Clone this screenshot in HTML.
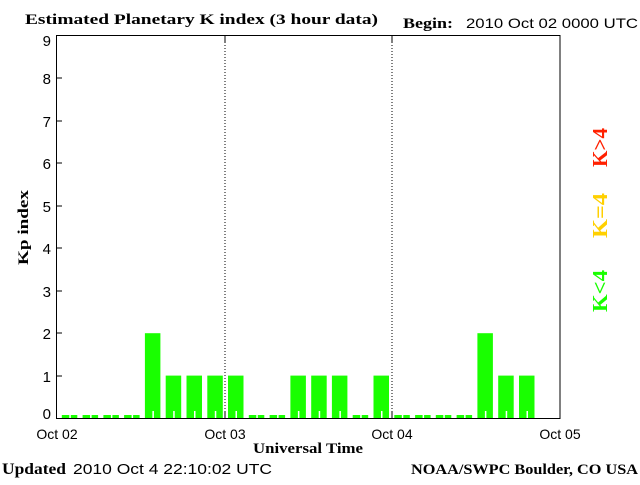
<!DOCTYPE html><html><head><style>body{margin:0;background:#fff}</style></head><body>
<svg width="640" height="480" xmlns="http://www.w3.org/2000/svg" font-family="Liberation Sans, sans-serif">
<rect width="640" height="480" fill="#fff"/>
<text x="25" y="24" font-family="Liberation Serif, serif" font-weight="bold" font-size="15" textLength="353" lengthAdjust="spacingAndGlyphs">Estimated Planetary K index (3 hour data)</text>
<text x="403" y="28" font-family="Liberation Serif, serif" font-weight="bold" font-size="15" textLength="50" lengthAdjust="spacingAndGlyphs">Begin:</text>
<text x="466" y="28" font-size="14" textLength="172" lengthAdjust="spacingAndGlyphs">2010 Oct 02 0000 UTC</text>
<g id="bars" fill="#19ff00"></g>
<line x1="225" y1="36" x2="225" y2="418" stroke="#000" stroke-dasharray="1,2"/>
<line x1="392" y1="36" x2="392" y2="418" stroke="#000" stroke-dasharray="1,2"/>
<rect x="56.5" y="35.5" width="503.5" height="383" fill="none" stroke="#000"/>
<g stroke="#000">
<line x1="57" y1="78" x2="62" y2="78"/><line x1="57" y1="121" x2="62" y2="121"/><line x1="57" y1="163" x2="62" y2="163"/><line x1="57" y1="206" x2="62" y2="206"/><line x1="57" y1="248" x2="62" y2="248"/><line x1="57" y1="291" x2="62" y2="291"/><line x1="57" y1="333" x2="62" y2="333"/><line x1="57" y1="376" x2="62" y2="376"/>
<line x1="225" y1="36" x2="225" y2="42"/><line x1="392" y1="36" x2="392" y2="42"/><line x1="225" y1="412" x2="225" y2="418"/><line x1="392" y1="412" x2="392" y2="418"/>
</g>
<g font-size="15" text-anchor="end">
<text x="51" y="46">9</text><text x="51" y="84">8</text><text x="51" y="127">7</text><text x="51" y="169">6</text><text x="51" y="212">5</text><text x="51" y="254">4</text><text x="51" y="297">3</text><text x="51" y="339">2</text><text x="51" y="382">1</text><text x="51" y="419">0</text>
</g>
<g font-size="14" text-anchor="middle">
<text x="57" y="439">Oct 02</text><text x="225" y="439">Oct 03</text><text x="392" y="439">Oct 04</text><text x="560" y="439">Oct 05</text>
</g>
<text x="253" y="453" font-family="Liberation Serif, serif" font-weight="bold" font-size="15" textLength="110" lengthAdjust="spacingAndGlyphs">Universal Time</text>
<text transform="translate(28,265) rotate(-90)" font-family="Liberation Serif, serif" font-weight="bold" font-size="15" textLength="75" lengthAdjust="spacingAndGlyphs">Kp index</text>
<text x="2" y="474" font-family="Liberation Serif, serif" font-weight="bold" font-size="16" textLength="64" lengthAdjust="spacingAndGlyphs">Updated</text>
<text x="73" y="474" font-size="15" textLength="199" lengthAdjust="spacingAndGlyphs">2010 Oct  4 22:10:02 UTC</text>
<text x="411" y="474" font-family="Liberation Serif, serif" font-weight="bold" font-size="15" textLength="227" lengthAdjust="spacingAndGlyphs">NOAA/SWPC Boulder, CO USA</text>
<g font-family="Liberation Serif, serif" font-weight="bold" font-size="21">
<text transform="translate(607,167) rotate(-90)" fill="#ff2000" textLength="39" lengthAdjust="spacingAndGlyphs">K&gt;4</text>
<text transform="translate(607,238) rotate(-90)" fill="#ffd000" textLength="45" lengthAdjust="spacingAndGlyphs">K=4</text>
<text transform="translate(607,312) rotate(-90)" fill="#19ff00" textLength="42" lengthAdjust="spacingAndGlyphs">K&lt;4</text>
</g>
</svg>
<script>
var v=[0,0,0,0,2,1,1,1,1,0,0,1,1,1,0,1,0,0,0,0,2,1,1];
var g=document.getElementById('bars'),s='';
for(var i=0;i<v.length;i++){var x=61.8+i*20.78;var h=v[i]==0?3:v[i]*42.4;
s+='<rect x="'+x.toFixed(1)+'" y="'+(418-h).toFixed(1)+'" width="15.5" height="'+h.toFixed(1)+'"/>';
s+='<rect x="'+(x+7.5).toFixed(1)+'" y="'+(v[i]==0?415:411)+'" width="1.5" height="'+(v[i]==0?3:7)+'" fill="#fff"/>';}
g.innerHTML=s;
</script>
</body></html>
